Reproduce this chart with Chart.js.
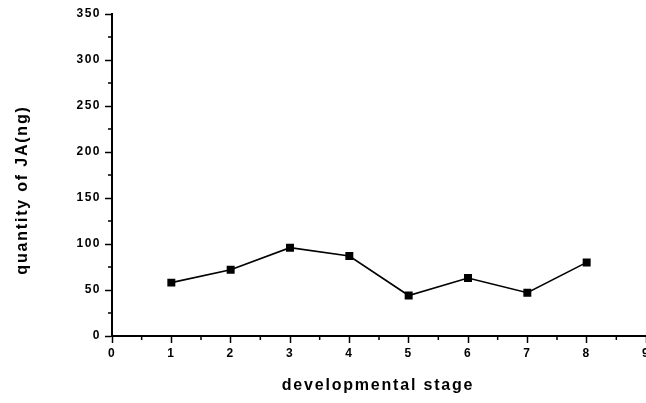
<!DOCTYPE html>
<html>
<head>
<meta charset="utf-8">
<script src="https://cdn.jsdelivr.net/npm/chart.js@4.4.0/dist/chart.umd.min.js"></script>
<style>
  html, body { margin: 0; padding: 0; background: #fff; overflow: hidden; }
  #wrap { width: 660px; height: 403px; }
</style>
</head>
<body>
<div id="wrap"><canvas id="chart" width="660" height="403"></canvas></div>
<script>
const stages = [1, 2, 3, 4, 5, 6, 7, 8];
const jaValues = [58, 72, 96, 87, 44, 63, 47, 80];
const xTicks = [0, 1, 2, 3, 4, 5, 6, 7, 8, 9];
const yTicks = [0, 50, 100, 150, 200, 250, 300, 350];
const xTitle = "developmental stage";
const yTitle = "quantity of JA(ng)";

const FAMILY = "Liberation Sans, Arial, sans-serif";

// the scanned original has widely spaced lettering
const spacing = {
  id: "spacing",
  beforeUpdate(chart) { chart.ctx.letterSpacing = "1.5px"; },
  beforeDraw(chart) { chart.ctx.letterSpacing = "1.5px"; }
};

// short minor ticks halfway between the major ones + axis titles
const extras = {
  id: "extras",
  afterDraw(chart) {
    const { ctx, scales: { x, y } } = chart;
    ctx.save();
    ctx.strokeStyle = "#000";
    ctx.lineWidth = 1.5;
    ctx.beginPath();
    for (let i = 0; i < xTicks.length - 1; i++) {
      const px = x.getPixelForValue(xTicks[i] + 0.5);
      ctx.moveTo(px, y.bottom);
      ctx.lineTo(px, y.bottom + 4);
    }
    for (let i = 0; i < yTicks.length - 1; i++) {
      const py = y.getPixelForValue(yTicks[i] + 25);
      ctx.moveTo(x.left, py);
      ctx.lineTo(x.left - 4, py);
    }
    ctx.stroke();

    ctx.fillStyle = "#000";
    ctx.font = "bold 16px " + FAMILY;
    ctx.letterSpacing = "1.8px";
    ctx.textAlign = "center";
    ctx.textBaseline = "middle";
    ctx.fillText(xTitle, 378, 386);
    ctx.translate(23, 190);
    ctx.rotate(-Math.PI / 2);
    ctx.fillText(yTitle, 0, 0);
    ctx.restore();
  }
};

const tickFont = { family: FAMILY, size: 12, weight: "bold" };

new Chart(document.getElementById("chart"), {
  type: "line",
  data: {
    datasets: [{
      data: stages.map((s, i) => ({ x: s, y: jaValues[i] })),
      borderColor: "#000",
      backgroundColor: "#000",
      borderWidth: 1.6,
      pointStyle: "rect",
      pointRadius: 4.5,
      pointHoverRadius: 4.5,
      tension: 0
    }]
  },
  options: {
    responsive: false,
    animation: false,
    plugins: { legend: { display: false }, tooltip: { enabled: false } },
    layout: { padding: { top: 14, right: 14, left: 0, bottom: 0 } },
    scales: {
      x: {
        type: "linear",
        min: 0,
        max: 9,
        afterBuildTicks: (s) => { s.ticks = xTicks.map(v => ({ value: v })); },
        afterFit: (s) => { s.height = 67; },
        ticks: { color: "#000", font: tickFont, padding: 3, maxRotation: 0, callback: v => String(v) },
        grid: { drawOnChartArea: false, drawTicks: true, tickLength: 7, color: "#000", tickWidth: 1.5 },
        border: { display: true, color: "#000", width: 2 }
      },
      y: {
        min: 0,
        max: 350,
        afterBuildTicks: (s) => { s.ticks = yTicks.map(v => ({ value: v })); },
        afterFit: (s) => { s.width = 112; },
        ticks: { color: "#000", font: tickFont, padding: 4, callback: v => String(v) },
        grid: { drawOnChartArea: false, drawTicks: true, tickLength: 7, color: "#000", tickWidth: 1.5 },
        border: { display: true, color: "#000", width: 2 }
      }
    }
  },
  plugins: [spacing, extras]
});
</script>
</body>
</html>
